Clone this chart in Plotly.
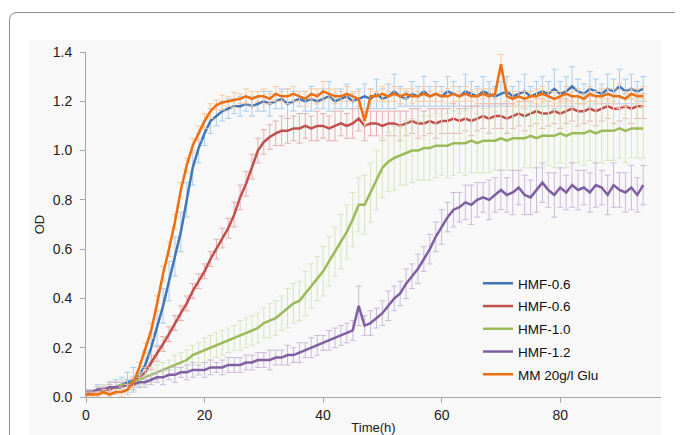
import plotly.graph_objects as go

TIME = list(range(0, 95))

NAMES = ["HMF-0.6", "HMF-0.6", "HMF-1.0", "HMF-1.2", "MM 20g/l Glu"]

HMF06_A = [0.02, 0.02, 0.03, 0.03, 0.04, 0.04, 0.05, 0.06, 0.07, 0.09,
           0.13, 0.20, 0.28, 0.37, 0.47, 0.57, 0.67, 0.80, 0.93, 1.01,
           1.07, 1.12, 1.14, 1.16, 1.17, 1.18, 1.18, 1.19, 1.18, 1.19,
           1.20, 1.19, 1.20, 1.21, 1.19, 1.20, 1.21, 1.20, 1.21, 1.20,
           1.21, 1.22, 1.20, 1.21, 1.22, 1.20, 1.21, 1.22, 1.21, 1.23,
           1.21, 1.22, 1.24, 1.22, 1.21, 1.23, 1.22, 1.24, 1.22, 1.23,
           1.22, 1.24, 1.23, 1.22, 1.24, 1.23, 1.22, 1.24, 1.23, 1.22,
           1.23, 1.24, 1.22, 1.23, 1.24, 1.22, 1.23, 1.24, 1.23, 1.25,
           1.23, 1.24, 1.26, 1.24, 1.23, 1.25, 1.24, 1.23, 1.25, 1.24,
           1.26, 1.24, 1.25, 1.24, 1.25]
HMF06_A_ERR = [0.01, 0.01, 0.02, 0.02, 0.02, 0.03, 0.03, 0.04, 0.05, 0.05,
               0.06, 0.06, 0.07, 0.07, 0.08, 0.08, 0.08, 0.07, 0.07, 0.06,
               0.05, 0.05, 0.04, 0.04, 0.04, 0.03, 0.04, 0.03, 0.04, 0.03,
               0.04, 0.05, 0.03, 0.04, 0.06, 0.04, 0.03, 0.04, 0.05, 0.03,
               0.04, 0.06, 0.03, 0.04, 0.05, 0.03, 0.04, 0.05, 0.04, 0.06,
               0.04, 0.05, 0.07, 0.04, 0.03, 0.05, 0.04, 0.06, 0.04, 0.05,
               0.04, 0.06, 0.05, 0.04, 0.07, 0.05, 0.04, 0.06, 0.05, 0.04,
               0.05, 0.06, 0.04, 0.05, 0.07, 0.04, 0.05, 0.06, 0.05, 0.08,
               0.05, 0.06, 0.08, 0.05, 0.04, 0.07, 0.05, 0.04, 0.06, 0.05,
               0.07, 0.05, 0.06, 0.04, 0.05]

HMF06_B = [0.01, 0.02, 0.02, 0.03, 0.03, 0.04, 0.04, 0.05, 0.06, 0.08,
           0.10, 0.14, 0.175, 0.215, 0.255, 0.30, 0.34, 0.38, 0.43, 0.47,
           0.51, 0.56, 0.60, 0.645, 0.685, 0.74, 0.81, 0.865, 0.935, 1.00,
           1.035, 1.055, 1.07, 1.08, 1.08, 1.09, 1.09, 1.10, 1.09, 1.10,
           1.10, 1.09, 1.10, 1.11, 1.10, 1.11, 1.13, 1.10, 1.11, 1.11,
           1.10, 1.11, 1.11, 1.10, 1.11, 1.12, 1.11, 1.11, 1.12, 1.11,
           1.12, 1.12, 1.13, 1.12, 1.13, 1.12, 1.13, 1.14, 1.13, 1.14,
           1.14, 1.13, 1.14, 1.15, 1.14, 1.15, 1.16, 1.15, 1.15, 1.16,
           1.15, 1.16, 1.17, 1.16, 1.16, 1.17, 1.16, 1.17, 1.18, 1.17,
           1.17, 1.18, 1.17, 1.18, 1.18]
HMF06_B_ERR = [0.01, 0.01, 0.01, 0.01, 0.02, 0.02, 0.02, 0.02, 0.02, 0.02,
               0.02, 0.03, 0.03, 0.03, 0.03, 0.03, 0.03, 0.03, 0.03, 0.03,
               0.03, 0.03, 0.04, 0.04, 0.04, 0.05, 0.05, 0.05, 0.05, 0.05,
               0.05, 0.05, 0.05, 0.06, 0.05, 0.05, 0.06, 0.05, 0.05, 0.06,
               0.05, 0.05, 0.06, 0.05, 0.05, 0.06, 0.05, 0.06, 0.05, 0.05,
               0.06, 0.05, 0.05, 0.06, 0.05, 0.05, 0.06, 0.05, 0.05, 0.06,
               0.05, 0.05, 0.06, 0.05, 0.05, 0.06, 0.05, 0.05, 0.06, 0.05,
               0.05, 0.06, 0.05, 0.05, 0.06, 0.05, 0.05, 0.06, 0.05, 0.05,
               0.06, 0.05, 0.05, 0.06, 0.05, 0.05, 0.06, 0.05, 0.05, 0.06,
               0.05, 0.05, 0.06, 0.05, 0.05]

HMF10 = [0.02, 0.02, 0.03, 0.03, 0.04, 0.04, 0.05, 0.05, 0.06, 0.07,
         0.08, 0.09, 0.10, 0.11, 0.12, 0.13, 0.14, 0.15, 0.17, 0.18,
         0.19, 0.20, 0.21, 0.22, 0.23, 0.24, 0.25, 0.26, 0.27, 0.28,
         0.30, 0.31, 0.32, 0.34, 0.36, 0.38, 0.39, 0.42, 0.45, 0.48,
         0.51, 0.55, 0.59, 0.63, 0.67, 0.72, 0.78, 0.78, 0.83, 0.88,
         0.93, 0.955, 0.97, 0.98, 0.99, 1.00, 1.00, 1.01, 1.01, 1.02,
         1.02, 1.02, 1.03, 1.03, 1.03, 1.04, 1.03, 1.04, 1.04, 1.04,
         1.05, 1.04, 1.05, 1.05, 1.05, 1.06, 1.05, 1.06, 1.06, 1.06,
         1.07, 1.06, 1.07, 1.07, 1.07, 1.08, 1.07, 1.08, 1.08, 1.08,
         1.09, 1.08, 1.09, 1.09, 1.09]
HMF10_ERR = [0.01, 0.01, 0.01, 0.02, 0.02, 0.02, 0.02, 0.02, 0.02, 0.02,
             0.03, 0.03, 0.03, 0.03, 0.03, 0.04, 0.04, 0.04, 0.04, 0.04,
             0.05, 0.05, 0.05, 0.05, 0.05, 0.05, 0.06, 0.06, 0.06, 0.06,
             0.06, 0.07, 0.07, 0.07, 0.08, 0.08, 0.08, 0.09, 0.09, 0.09,
             0.10, 0.10, 0.10, 0.11, 0.11, 0.11, 0.11, 0.12, 0.12, 0.12,
             0.12, 0.12, 0.13, 0.12, 0.13, 0.13, 0.12, 0.13, 0.13, 0.13,
             0.12, 0.13, 0.13, 0.12, 0.13, 0.13, 0.12, 0.13, 0.13, 0.12,
             0.13, 0.12, 0.13, 0.13, 0.12, 0.13, 0.12, 0.13, 0.12, 0.13,
             0.12, 0.13, 0.12, 0.12, 0.13, 0.12, 0.12, 0.13, 0.12, 0.12,
             0.12, 0.13, 0.12, 0.12, 0.12]

HMF12 = [0.02, 0.02, 0.03, 0.03, 0.04, 0.04, 0.04, 0.05, 0.05, 0.06,
         0.06, 0.07, 0.08, 0.08, 0.09, 0.09, 0.10, 0.10, 0.11, 0.11,
         0.11, 0.12, 0.12, 0.12, 0.13, 0.13, 0.13, 0.14, 0.14, 0.15,
         0.15, 0.15, 0.16, 0.16, 0.17, 0.17, 0.18, 0.19, 0.20, 0.21,
         0.22, 0.23, 0.24, 0.25, 0.26, 0.27, 0.37, 0.29, 0.30, 0.32,
         0.34, 0.37, 0.40, 0.42, 0.46, 0.49, 0.52, 0.56, 0.60, 0.65,
         0.69, 0.73, 0.76, 0.77, 0.79, 0.78, 0.80, 0.81, 0.80, 0.82,
         0.84, 0.82, 0.83, 0.85, 0.82, 0.81, 0.84, 0.87, 0.84, 0.82,
         0.85, 0.83, 0.86, 0.84, 0.85, 0.83, 0.86, 0.85, 0.82, 0.86,
         0.84, 0.83, 0.85, 0.82, 0.86]
HMF12_ERR = [0.01, 0.01, 0.01, 0.01, 0.02, 0.02, 0.02, 0.02, 0.02, 0.02,
             0.02, 0.02, 0.02, 0.03, 0.02, 0.03, 0.02, 0.03, 0.03, 0.02,
             0.03, 0.03, 0.02, 0.03, 0.03, 0.03, 0.03, 0.03, 0.03, 0.03,
             0.03, 0.04, 0.03, 0.03, 0.04, 0.03, 0.04, 0.03, 0.04, 0.04,
             0.03, 0.04, 0.04, 0.04, 0.04, 0.04, 0.08, 0.04, 0.05, 0.04,
             0.05, 0.06, 0.05, 0.05, 0.06, 0.05, 0.06, 0.05, 0.06, 0.06,
             0.07, 0.06, 0.07, 0.06, 0.07, 0.08, 0.07, 0.06, 0.08, 0.07,
             0.08, 0.07, 0.09, 0.07, 0.08, 0.07, 0.09, 0.08, 0.07, 0.09,
             0.08, 0.07, 0.09, 0.08, 0.07, 0.08, 0.09, 0.07, 0.08, 0.09,
             0.07, 0.08, 0.09, 0.07, 0.08]

MM_GLU = [0.01, 0.01, 0.01, 0.02, 0.01, 0.02, 0.02, 0.03, 0.06, 0.12,
          0.20, 0.27, 0.38, 0.50, 0.60, 0.71, 0.84, 0.94, 1.02, 1.07,
          1.12, 1.16, 1.185, 1.195, 1.20, 1.205, 1.21, 1.22, 1.21, 1.22,
          1.22, 1.21, 1.23, 1.22, 1.22, 1.23, 1.22, 1.21, 1.23, 1.22,
          1.24, 1.23, 1.22, 1.22, 1.23, 1.22, 1.21, 1.12, 1.22, 1.22,
          1.23, 1.22, 1.23, 1.22, 1.23, 1.22, 1.22, 1.23, 1.22, 1.23,
          1.22, 1.22, 1.23, 1.22, 1.23, 1.22, 1.22, 1.23, 1.22, 1.23,
          1.35, 1.22, 1.21, 1.22, 1.21, 1.22, 1.22, 1.23, 1.22, 1.21,
          1.22, 1.23, 1.22, 1.22, 1.21, 1.23, 1.22, 1.22, 1.23, 1.22,
          1.22, 1.21, 1.23, 1.22, 1.22]
MM_GLU_ERR = [0.01, 0.01, 0.01, 0.01, 0.01, 0.01, 0.02, 0.02, 0.02, 0.02,
              0.02, 0.03, 0.03, 0.03, 0.03, 0.03, 0.03, 0.03, 0.03, 0.03,
              0.03, 0.03, 0.02, 0.03, 0.02, 0.03, 0.02, 0.03, 0.03, 0.02,
              0.03, 0.02, 0.03, 0.02, 0.03, 0.03, 0.02, 0.03, 0.02, 0.03,
              0.04, 0.02, 0.03, 0.02, 0.03, 0.02, 0.03, 0.02, 0.03, 0.02,
              0.03, 0.02, 0.03, 0.03, 0.02, 0.03, 0.02, 0.03, 0.02, 0.03,
              0.02, 0.03, 0.03, 0.02, 0.03, 0.02, 0.03, 0.02, 0.03, 0.02,
              0.04, 0.02, 0.03, 0.02, 0.03, 0.02, 0.03, 0.03, 0.02, 0.03,
              0.02, 0.03, 0.02, 0.03, 0.02, 0.03, 0.02, 0.03, 0.02, 0.03,
              0.05, 0.03, 0.02, 0.03, 0.04]

SERIES = [HMF06_A, HMF06_B, HMF10, HMF12, MM_GLU]
ERRORS = [HMF06_A_ERR, HMF06_B_ERR, HMF10_ERR, HMF12_ERR, MM_GLU_ERR]
LINE_COLORS = ["#3f77b6", "#c0504d", "#9bbb59", "#7f5fa1", "#ec6f12"]
ERR_COLORS = ["#a9cdef", "#e5b0af", "#d7e5bd", "#cbbadc", "#fbcaa0"]

fig = go.Figure()
for i in range(5):
    fig.add_trace(go.Scatter(
        x=TIME, y=SERIES[i], name=NAMES[i], mode="lines",
        legendgroup="g%d" % i,
        line=dict(color=LINE_COLORS[i], width=2.5),
        error_y=dict(type="data", array=ERRORS[i], visible=True,
                     color=ERR_COLORS[i], thickness=1, width=3),
    ))

# page has an 8px body margin: work in window pixels, shift by OFF
OFF = 8
WIN_W, WIN_H = 683, 435
W, H = WIN_W - OFF, WIN_H - OFF
# plot area in window pixels
PX0, PX1, PY0, PY1 = 86, 661, 52, 397
L, R, T, B = PX0 - OFF, W - (PX1 - OFF), PY0 - OFF, H - (PY1 - OFF)
PW, PH = PX1 - PX0, PY1 - PY0


def px(x):
    return (x - PX0) / PW


def py(y):
    return (PY1 - y) / PH


bg = "#f8f8f8"
shapes = [
    dict(type="rect", xref="paper", yref="paper", x0=px(29), x1=px(661),
         y0=py(450), y1=py(40), fillcolor=bg, line=dict(width=0), layer="below"),
]
rr = 8
lx, rx_, ty, by = 9.5, 682, 12.5, 460
path = ("M %f,%f L %f,%f Q %f,%f %f,%f L %f,%f Q %f,%f %f,%f L %f,%f" % (
    px(lx), py(by), px(lx), py(ty + rr), px(lx), py(ty), px(lx + rr), py(ty),
    px(rx_ - rr), py(ty), px(rx_), py(ty), px(rx_), py(ty + rr), px(rx_), py(by)))
shapes.append(dict(type="path", xref="paper", yref="paper", path=path,
                   line=dict(color="#8c8c8c", width=1), layer="below"))

font_fam = "Liberation Sans, Arial, sans-serif"
fig.update_layout(
    width=W, height=H,
    margin=dict(l=L, r=R, t=T, b=B, autoexpand=False),
    paper_bgcolor="white", plot_bgcolor=bg,
    shapes=shapes,
    font=dict(family=font_fam, size=14, color="#222222"),
    showlegend=True,
    legend=dict(x=px(478), y=py(268), xanchor="left", yanchor="top",
                bgcolor="rgba(0,0,0,0)", font=dict(size=13.5, color="#111111"),
                tracegroupgap=2.2),
    xaxis=dict(range=[0, 97], tickvals=[0, 20, 40, 60, 80],
               showgrid=False, zeroline=False, showline=True,
               linecolor="#a6a6a6", linewidth=1, ticks="outside", ticklen=5,
               tickcolor="#a6a6a6",
               title=dict(text="Time(h)", standoff=7, font=dict(size=13))),
    yaxis=dict(range=[0, 1.4], tickvals=[0, 0.2, 0.4, 0.6, 0.8, 1.0, 1.2, 1.4],
               tickformat=".1f", ticklabelstandoff=5,
               showgrid=False, zeroline=False, showline=True,
               linecolor="#a6a6a6", linewidth=1, ticks="outside", ticklen=5,
               tickcolor="#a6a6a6",
               title=dict(text="OD", standoff=5, font=dict(size=13))),
)

fig.write_html("out.html")
